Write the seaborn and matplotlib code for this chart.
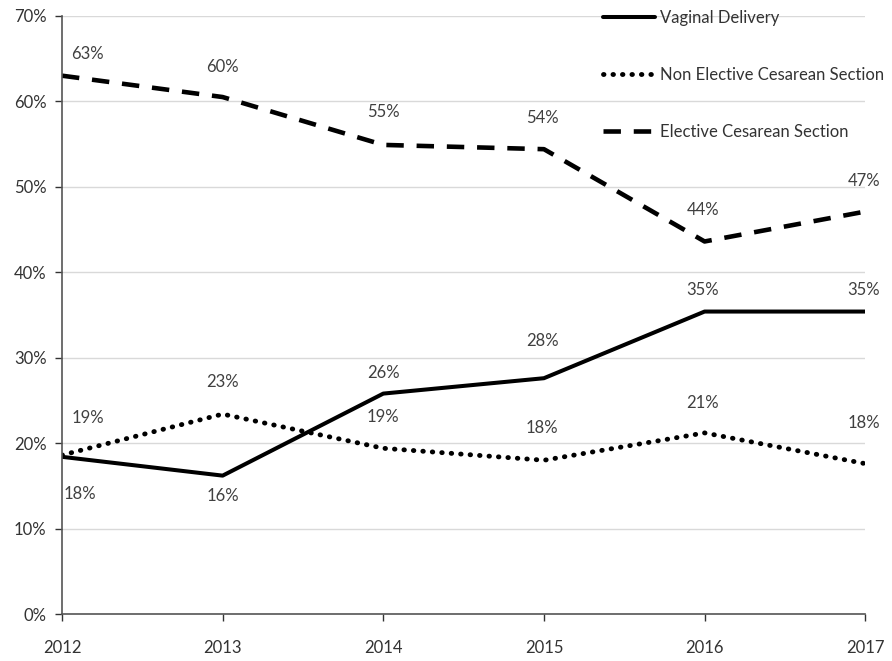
import matplotlib
matplotlib.use("Agg")
import matplotlib.pyplot as plt
import seaborn as sns
import pandas as pd
from matplotlib.ticker import FuncFormatter

years = [2012, 2013, 2014, 2015, 2016, 2017]
vaginal = [18.4, 16.2, 25.8, 27.6, 35.4, 35.4]
non_elective = [18.6, 23.4, 19.4, 18.0, 21.2, 17.6]
elective = [63.0, 60.5, 54.9, 54.4, 43.6, 47.1]
series_names = ["Vaginal Delivery", "Non Elective Cesarean Section", "Elective Cesarean Section"]

sns.set_theme(style="white")
plt.rcParams["font.family"] = ["Lato", "DejaVu Sans"]

df = pd.DataFrame({
    "year": years * 3,
    "value": vaginal + non_elective + elective,
    "series": sum([[n] * len(years) for n in series_names], []),
})

fig = plt.figure(figsize=(8.92, 6.61), dpi=100)
ax = fig.add_axes([0.0695, 0.071, 0.9005, 0.905])

styles = {
    "Vaginal Delivery": dict(linestyle="-", linewidth=2.9),
    "Non Elective Cesarean Section": dict(linestyle=(0, (0.1, 1.85)), linewidth=3.5,
                                          dash_capstyle="round"),
    "Elective Cesarean Section": dict(linestyle=(0, (3.8, 2.8)), linewidth=3.3),
}
for name in series_names:
    sub = df[df["series"] == name]
    sns.lineplot(data=sub, x="year", y="value", ax=ax, color="black",
                 label=name, **styles[name])

# vertical offset of each value label's centre from its point (data units)
offsets = {
    "Vaginal Delivery": [-4.3, -2.4, 2.4, 4.4, 2.5, 2.5],
    "Non Elective Cesarean Section": [4.4, 3.8, 3.7, 3.8, 3.5, 4.8],
    "Elective Cesarean Section": [2.5, 3.5, 3.8, 3.6, 3.7, 3.6],
}
x_shift = [0.16, 0.0, 0.0, -0.01, -0.01, -0.01]
vals = {"Vaginal Delivery": vaginal, "Non Elective Cesarean Section": non_elective,
        "Elective Cesarean Section": elective}
for name in series_names:
    for i, (x, v) in enumerate(zip(years, vals[name])):
        dx = x_shift[i]
        if name == "Vaginal Delivery" and i == 0:
            dx = 0.11
        ax.text(x + dx, v + offsets[name][i], f"{round(v):.0f}%", ha="center",
                va="center", fontsize=12, color="#404040")

ax.set_xlim(2012, 2017)
ax.set_ylim(0, 70)
ax.set_yticks(range(0, 71, 10))
ax.set_xticks(years)
ax.yaxis.set_major_formatter(FuncFormatter(lambda v, p: f"{v:.0f}%"))
ax.grid(axis="y", color="#d9d9d9", linewidth=1)
ax.set_xlabel("")
ax.set_ylabel("")
for s in ["top", "right"]:
    ax.spines[s].set_visible(False)
for s in ["left", "bottom"]:
    ax.spines[s].set_color("#555555")
    ax.spines[s].set_linewidth(1.2)
ax.tick_params(axis="both", labelsize=12, colors="#333333", length=5, width=1,
               direction="out", left=True, bottom=True)
ax.tick_params(axis="x", pad=14)
ax.tick_params(axis="y", pad=6)

leg = ax.legend(loc="upper left", bbox_to_anchor=(603 / 892, 1 - 10 / 661),
                bbox_transform=fig.transFigure, frameon=False, borderpad=0,
                borderaxespad=0, fontsize=12, handlelength=3.1, labelspacing=2.45,
                handletextpad=0.3, labelcolor="#333333")
fig.savefig("out.png", dpi=100)
